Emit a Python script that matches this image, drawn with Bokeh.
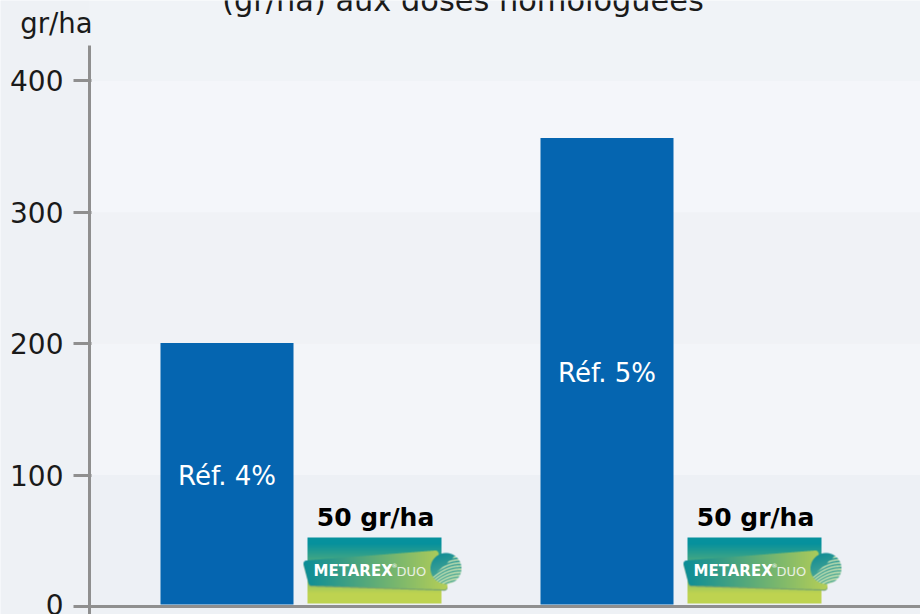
import numpy as np
from bokeh.embed import file_html
from bokeh.resources import INLINE
from bokeh.plotting import figure
from bokeh.models import Range1d, FixedTicker

groups = ["Réf. 4%", "Réf. 5%"]
ref_values = [200.5, 356.5]
logo_values = [52.5, 52.5]
logo_labels = ["50 gr/ha", "50 gr/ha"]
y_ticks = [0, 100, 200, 300, 400]
y_unit = "gr/ha"
title_line = "(gr/ha) aux doses homologuées"
band_colors = ["#edf0f5", "#f3f5f9", "#f0f2f6", "#f4f6fa"]

W, H = 920, 614
AXIS_X, AXIS_Y = 89, 606
PX_Y = 1.314
PX_X = 380.0
C0 = 300.0
FONT = "DejaVu Sans"


def X(px):
    return (px - C0) / PX_X


def Y(py):
    return (AXIS_Y - py) / PX_Y


p = figure(width=W, height=H, output_backend="svg", toolbar_location=None,
           x_range=Range1d(X(0), X(W)), y_range=Range1d(Y(H), Y(0)),
           min_border_left=0, min_border_right=0, min_border_top=0, min_border_bottom=0,
           background_fill_color="#f0f3f7", border_fill_color="#eef1f5",
           outline_line_color=None)
p.grid.visible = False

# background: left strip, bottom strip and bands
p.quad(left=X(0), right=X(AXIS_X), bottom=Y(H), top=Y(0), fill_color="#eef1f5", line_color=None)
p.quad(left=X(AXIS_X), right=X(W), bottom=Y(H), top=0, fill_color="#eef1f5", line_color=None)
p.quad(left=X(AXIS_X), right=X(W), bottom=y_ticks[:-1], top=y_ticks[1:],
       fill_color=band_colors, line_color=None)

# reference bars
xs = np.arange(len(groups))
bar_w = 133 / PX_X
ref_x = xs + (226.5 - C0) / PX_X
p.vbar(x=ref_x, width=bar_w, bottom=1.5, top=ref_values, fill_color="#0565b0", line_color=None)
p.text(x=ref_x, y=[Y(475), Y(372)], text=groups,
       text_color="white", text_font_size="26px", text_font={"value": FONT},
       text_align="center", text_baseline="middle")


def seg_dist(gx, gy, a, b):
    ax, ay = a
    bx, by = b
    dx, dy = bx - ax, by - ay
    t = np.clip(((gx - ax) * dx + (gy - ay) * dy) / (dx * dx + dy * dy), 0, 1)
    return np.hypot(gx - ax - t * dx, gy - ay - t * dy)


def rounded_poly(gx, gy, pts, r):
    inside = np.ones_like(gx, dtype=bool)
    dist = np.full_like(gx, 1e9)
    n = len(pts)
    for i in range(n):
        a, b = pts[i], pts[(i + 1) % n]
        inside &= ((b[0] - a[0]) * (gy - a[1]) - (b[1] - a[1]) * (gx - a[0])) >= 0
        dist = np.minimum(dist, seg_dist(gx, gy, a, b))
    return inside | (dist <= r)


# logo painted as an RGBA raster (supersampled for smooth edges)
def logo():
    x0, x1, y0, y1 = 302, 463, 536, 604
    ss = 4
    w, h = x1 - x0, y1 - y0
    gx, gy = np.meshgrid((np.arange(w * ss) + .5) / ss + x0, (np.arange(h * ss) + .5) / ss + y0)
    top = np.array([6, 145, 157.])
    bottom = np.array([190, 211, 80.])
    img = np.zeros((h * ss, w * ss, 4))
    box = (gx >= 307) & (gx <= 441) & (gy >= 537) & (gy <= 603)
    t = np.clip((gy - 543) / 50, 0, 1)[..., None]
    img[..., :3] = top + (bottom - top) * t
    img[..., 3] = box * 255
    pts = [(306, 563), (435, 553), (444, 586), (311, 582)]
    sh = rounded_poly(gx, gy - 1.2, pts, 3)
    img[sh, :3] = np.array([120, 165, 110.])
    img[sh, 3] = 255
    ban = rounded_poly(gx, gy, pts, 3)
    s = np.clip((gx - 303) / 140, 0, 1)[..., None]
    c0 = np.array([10, 140, 152.])
    c1 = np.array([178, 205, 88.])
    col = c0 + (c1 - c0) * s
    img[ban, :3] = col[ban]
    img[ban, 3] = 255
    # sphere
    dx, dy = gx - 445.5, gy - 568
    sph = np.hypot(dx, dy) <= 15.5
    tt = np.clip((dy + 16 + (dx + 16) * 0.3) / 34, 0, 1)[..., None]
    a, b = np.array([8, 135, 148.]), np.array([90, 175, 150.])
    sc = a + (b - a) * tt
    u = dy + 0.45 * dx - 0.016 * dx ** 2
    stripes = (np.sin(u * 2.0) > 0.15) & (dx + dy * 1.1 > -5)
    sc = np.where(stripes[..., None], np.array([214, 232, 180.]), sc)
    img[sph, :3] = sc[sph]
    img[sph, 3] = 255
    alpha = img[..., 3:] / 255
    prem = np.concatenate([img[..., :3] * alpha, alpha], axis=2)
    prem = prem.reshape(h, ss, w, ss, 4).mean(axis=(1, 3))
    al = np.maximum(prem[..., 3:], 1e-6)
    rgba = np.concatenate([prem[..., :3] / al, prem[..., 3:] * 255], axis=2)
    out = np.zeros((h, w), dtype=np.uint32)
    v = out.view(dtype=np.uint8).reshape((h, w, 4))
    v[...] = np.clip(rgba, 0, 255).astype(np.uint8)
    return out[::-1], x0, y1, w, h


raster, lx0, ly1, lw, lh = logo()
for g, val in zip(xs, logo_values):
    p.image_rgba(image=[raster], x=[g + X(lx0)], y=[Y(ly1)], dw=[lw / PX_X], dh=[lh / PX_Y])

logo_x = xs + (375 - C0) / PX_X
p.text(x=logo_x, y=[v + 4.5 for v in logo_values], text=logo_labels, text_color="#000000",
       text_font_size="25px", text_font_style="bold", text_font={"value": FONT},
       text_align="center", text_baseline="bottom")
p.text(x=xs + X(313), y=Y(570.5), text=["METAREX"] * 2, text_color="white", text_font_size="15px",
       text_font_style="bold", text_font={"value": FONT}, text_align="left", text_baseline="middle")
p.text(x=xs + X(391), y=Y(565), text=["®"] * 2, text_color="white", text_font_size="6px",
       text_font={"value": FONT}, text_align="left", text_baseline="middle")
p.text(x=xs + X(396), y=Y(571), text=["DUO"] * 2, text_color="#e9f0e2", text_font_size="13px",
       text_font={"value": FONT}, text_align="left", text_baseline="middle")

# cropped title line and unit
p.text(x=[X(462.5)], y=[Y(0)], text=[title_line], text_color="#1a1a1a", text_font_size="30.4px",
       text_font={"value": FONT}, text_align="center", text_baseline="alphabetic")
p.text(x=[X(56)], y=[Y(22)], text=[y_unit], text_color="#1a1a1a", text_font_size="27.5px",
       text_font={"value": FONT}, text_align="center", text_baseline="middle")

# axes
ya = p.yaxis[0]
ya.fixed_location = X(AXIS_X)
ya.ticker = FixedTicker(ticks=y_ticks)
ya.bounds = (Y(H), Y(45))
ya.axis_line_color = "#8f8f8f"
ya.axis_line_width = 3
ya.major_tick_line_color = "#8f8f8f"
ya.major_tick_line_width = 3
ya.major_tick_out = 16
ya.major_tick_in = 2
ya.minor_tick_line_color = None
ya.major_label_text_font = FONT
ya.major_label_text_font_size = "28px"
ya.major_label_text_color = "#1a1a1a"
ya.major_label_standoff = 10

xa = p.xaxis[0]
xa.fixed_location = 0
xa.ticker = FixedTicker(ticks=[])
xa.bounds = (X(AXIS_X), X(W))
xa.axis_line_color = "#8f8f8f"
xa.axis_line_width = 3
xa.major_tick_line_color = None
xa.minor_tick_line_color = None

html = file_html(p, INLINE).replace("</head>", "<style>html,body{margin:0;padding:0;overflow:hidden}</style></head>", 1)
open("out.html", "w").write(html)
